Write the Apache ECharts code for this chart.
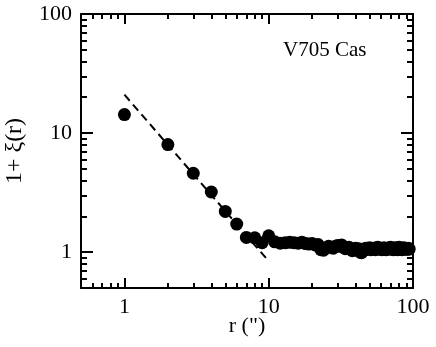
<!DOCTYPE html>
<html>
<head>
<meta charset="utf-8">
<script src="https://cdn.jsdelivr.net/npm/echarts@6/dist/echarts.min.js"></script>
<style>html,body{margin:0;padding:0;background:#fff}#c{width:436px;height:347px}</style>
</head>
<body>
<div id="c"></div>
<script>
// Data
const rValues = [1,2,3,4,5,6,7,8,9,10,
  11,12,13,14,15,16,17,18,19,20,21,22,23,24,25,26,27,28,29,30,
  31,32,33,34,35,36,37,38,39,40,41,42,43,44,45,46,47,48,49,50,
  51,52,53,54,55,56,57,58,59,60,61,62,63,64,65,66,67,68,69,70,
  71,72,73,74,75,76,77,78,79,80,81,82,83,84,85,86,87,88,89,90,
  91,92,93,94];
const xiValues = [14.3,8.0,4.6,3.2,2.2,1.72,1.33,1.32,1.2,1.37,
  1.22,1.19,1.2,1.21,1.2,1.19,1.21,1.18,1.17,1.18,1.15,1.16,1.05,1.04,1.09,1.12,1.1,1.08,1.12,1.14,
  1.12,1.15,1.1,1.07,1.08,1.1,1.06,1.03,1.06,1.08,1.05,1.07,1.0,0.99,1.02,1.05,1.08,1.06,1.07,1.09,
  1.05,1.06,1.08,1.07,1.05,1.09,1.1,1.07,1.06,1.08,1.05,1.07,1.09,1.06,1.05,1.07,1.08,1.06,1.09,1.1,
  1.08,1.06,1.05,1.07,1.09,1.08,1.06,1.05,1.07,1.1,1.08,1.06,1.07,1.05,1.08,1.09,1.07,1.06,1.08,1.07,
  1.06,1.07,1.08,1.06];
const fitX = [1, 10];
const fitY = [21, 0.84];
const majorTicks = [1, 10, 100];
const minorTicks = [0.5,0.6,0.7,0.8,0.9,2,3,4,5,6,7,8,9,20,30,40,50,60,70,80,90];
const xTickLabels = [1, 10, 100];
const yTickLabels = [1, 10, 100];
const label = 'V705 Cas';

const FONT = "'Liberation Serif','Times New Roman',serif";
const chart = echarts.init(document.getElementById('c'), null, {renderer:'canvas'});

function mkAxis(pos, ticks, len, showLine, labels, extra) {
  return Object.assign({
    type: 'log', logBase: 10, min: 0.5, max: 100, position: pos,
    axisLine: {show: showLine, onZero: false, lineStyle: {color: '#000', width: 2}},
    axisTick: {show: true, inside: true, length: len, customValues: ticks, lineStyle: {color: '#000', width: 2}},
    axisLabel: labels ? {show: true, customValues: labels, color: '#000', fontFamily: FONT, fontSize: 22} : {show: false},
    splitLine: {show: false},
    minorTick: {show: false}
  }, extra || {});
}

const option = {
  animation: false,
  grid: {left: 81, top: 14, right: 23, bottom: 59, containLabel: false, outerBoundsMode: 'none'},
  xAxis: [
    mkAxis('bottom', majorTicks, 10, true, xTickLabels, {
      name: 'r (")', nameLocation: 'middle', nameGap: 27, nameMoveOverlap: false,
      nameTextStyle: {color: '#000', fontFamily: FONT, fontSize: 22},
      axisLabel: {show: true, customValues: xTickLabels, color: '#000', fontFamily: FONT, fontSize: 22, margin: 8}
    }),
    mkAxis('bottom', minorTicks, 5, false, null),
    mkAxis('top', majorTicks, 10, true, null),
    mkAxis('top', minorTicks, 5, false, null)
  ],
  yAxis: [
    mkAxis('left', majorTicks, 12, true, yTickLabels, {
      name: '1+ ξ(r)', nameLocation: 'middle', nameGap: 54, nameMoveOverlap: false,
      nameTextStyle: {color: '#000', fontFamily: FONT, fontSize: 24},
      axisLabel: {show: true, customValues: yTickLabels, color: '#000', fontFamily: FONT, fontSize: 22, margin: 9}
    }),
    mkAxis('left', minorTicks, 6, false, null),
    mkAxis('right', majorTicks, 12, true, null),
    mkAxis('right', minorTicks, 6, false, null)
  ],
  graphic: [{
    type: 'text', left: 283, top: 40,
    style: {text: label, fill: '#000', font: '21px ' + FONT}
  }],
  series: [
    {
      type: 'line', xAxisIndex: 0, yAxisIndex: 0, z: 1,
      data: fitX.map((x, i) => [x, fitY[i]]),
      symbol: 'none',
      lineStyle: {color: '#000', width: 2, type: [8, 5]}
    },
    {
      type: 'scatter', xAxisIndex: 0, yAxisIndex: 0, z: 2,
      data: rValues.map((r, i) => [r, xiValues[i]]),
      symbol: 'circle', symbolSize: 13,
      itemStyle: {color: '#000', opacity: 1}
    }
  ]
};
chart.setOption(option);
</script>
</body>
</html>
